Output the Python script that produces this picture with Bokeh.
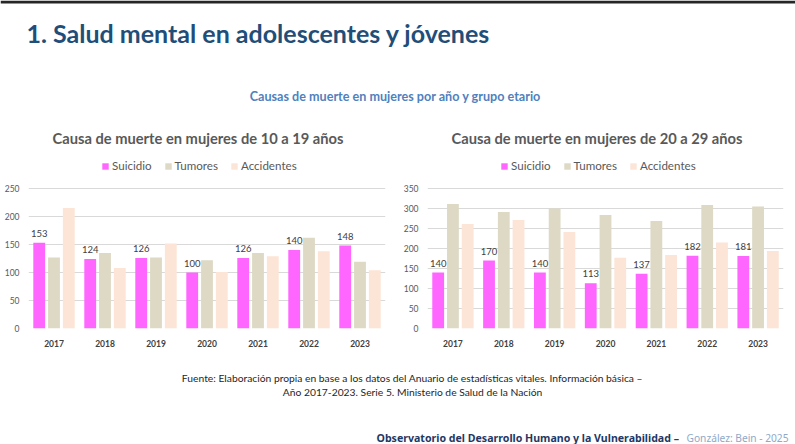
from bokeh.plotting import figure
from bokeh.models import (ColumnDataSource, FactorRange, Range1d, Legend, LegendItem,
                          FixedTicker)
from bokeh.layouts import column, row
from bokeh.embed import file_html
from bokeh.resources import INLINE
from bokeh.core.properties import value
from bokeh.transform import dodge

# ---- data -------------------------------------------------------------
years = ["2017", "2018", "2019", "2020", "2021", "2022", "2023"]

suicidio_10_19 = [153, 124, 126, 100, 126, 140, 148]
tumores_10_19 = [127, 135, 127, 122, 135, 162, 119]
accidentes_10_19 = [215, 108, 152, 101, 129, 138, 104]

suicidio_20_29 = [140, 170, 140, 113, 137, 182, 181]
tumores_20_29 = [311, 291, 300, 284, 269, 309, 305]
accidentes_20_29 = [261, 271, 241, 177, 184, 215, 194]

series = ["Suicidio", "Tumores", "Accidentes"]
series_colors = ["#FF66FF", "#DDD9C4", "#FCE4D6"]

page_title = "1. Salud mental en adolescentes y jóvenes"
subtitle = "Causas de muerte en mujeres por año y grupo etario"
chart_titles = ["Causa de muerte en mujeres de 10 a 19 años",
                "Causa de muerte en mujeres de 20 a 29 años"]
source_lines = ["Fuente: Elaboración propia en base a los datos del Anuario de estadísticas vitales. Información básica –",
                "Año 2017-2023. Serie 5. Ministerio de Salud de la Nación"]
footer_main = "Observatorio del Desarrollo Humano y la Vulnerabilidad – "
footer_credit = "González: Bein - 2025"

W = 795
FONT = value("Lato")

# chart geometry (pixels): plot area holds the legend strip plus the gridded zone
CHART_H = 210
PLOT_H = 178      # frame height (legend strip + gridded area)
GRID_H = 140      # height of the gridded area, 0 .. max tick


def canvas(width, height):
    """Blank figure whose data coordinates are pixels (y grows downwards)."""
    c = figure(width=width, height=height, x_range=Range1d(0, width),
               y_range=Range1d(height, 0), output_backend="svg",
               toolbar_location=None, x_axis_type=None, y_axis_type=None,
               min_border=0, outline_line_color=None)
    c.grid.visible = False
    return c


# ---- header -----------------------------------------------------------
header = canvas(W, 150)
header.quad(left=0, right=W, top=0, bottom=3, fill_color="#262626", line_color=None)
header.text(x=[26], y=[32], text=[page_title], text_font=FONT, text_font_style="bold",
            text_font_size="25px", text_color="#1F4E79", text_baseline="middle")
header.text(x=[395], y=[96], text=[subtitle], text_font=FONT, text_font_style="bold",
            text_font_size="12.6px", text_color="#4F81BD", text_align="center",
            text_baseline="middle")
header.text(x=[197.5, 596.5], y=[137, 137], text=chart_titles, text_font=FONT,
            text_font_style="bold", text_font_size="14.7px", text_color="#595959",
            text_align="center", text_baseline="middle")


# ---- charts -----------------------------------------------------------
def make_chart(sui, tum, acc, ymax, ystep, width, border_left, legend_x):
    src = ColumnDataSource(dict(year=years, Suicidio=sui, Tumores=tum, Accidentes=acc,
                                lbl=[str(v) for v in sui]))
    p = figure(x_range=FactorRange(*years), y_range=Range1d(0, ymax * PLOT_H / GRID_H),
               width=width, height=CHART_H, output_backend="svg", toolbar_location=None,
               min_border_left=border_left, min_border_right=12,
               min_border_top=0, min_border_bottom=CHART_H - PLOT_H,
               outline_line_color=None)

    offsets = [-0.29, 0.0, 0.29]
    items = []
    for name, col, off in zip(series, series_colors, offsets):
        r = p.vbar(x=dodge("year", off, range=p.x_range), top=name, width=0.232,
                   source=src, fill_color=col, line_color=None)
        items.append(LegendItem(label=name, renderers=[r]))

    p.text(x=dodge("year", offsets[0], range=p.x_range), y="Suicidio", text="lbl",
           source=src, text_align="center", text_baseline="bottom", y_offset=-6,
           text_font=FONT, text_font_size="9.5px", text_color="#404040")

    legend = Legend(items=items, orientation="horizontal", location=(legend_x, 156),
                    border_line_color=None, background_fill_alpha=0, padding=0,
                    margin=0, spacing=12, label_standoff=3, glyph_width=8,
                    glyph_height=8, label_height=13, label_text_font="Lato",
                    label_text_font_size="11.6px", label_text_color="#595959")
    p.add_layout(legend)

    for ax in (p.xaxis, p.yaxis):
        ax.axis_line_color = None
        ax.major_tick_line_color = None
        ax.minor_tick_line_color = None
        ax.major_tick_out = 0
        ax.major_tick_in = 0
        ax.minor_tick_out = 0
        ax.minor_tick_in = 0
        ax.major_label_text_font = "Lato"
        ax.major_label_text_font_size = "8.5px"

    p.yaxis.ticker = FixedTicker(ticks=list(range(0, ymax + 1, ystep)))
    p.yaxis.major_label_standoff = 9
    p.yaxis.major_label_text_color = "#595959"

    p.xaxis.major_label_standoff = 11
    p.xaxis.major_label_text_font_style = "bold"
    p.xaxis.major_label_text_color = "#404040"

    p.xgrid.grid_line_color = None
    p.ygrid.grid_line_color = "#D9D9D9"
    p.ygrid.grid_line_width = 1
    return p


left = make_chart(suicidio_10_19, tumores_10_19, accidentes_10_19, 250, 50,
                  width=397, border_left=28, legend_x=73)
right = make_chart(suicidio_20_29, tumores_20_29, accidentes_20_29, 350, 50,
                   width=398, border_left=30, legend_x=73)

# ---- footer -----------------------------------------------------------
footer = canvas(W, 84)
footer.text(x=[412, 412], y=[17, 31], text=source_lines, text_font=FONT,
            text_font_size="10.3px", text_color="#262626", text_align="center",
            text_baseline="middle")
footer.text(x=[376], y=[77], text=[footer_main], text_font=value("Noto Sans"),
            text_font_style="bold", text_font_size="10.6px", text_color="#1F3864",
            text_baseline="alphabetic")
footer.text(x=[686], y=[77], text=[footer_credit], text_font=value("Noto Sans"),
            text_font_size="10.2px", text_color="#8EA9C8", text_baseline="alphabetic")

layout = column(header, row(left, right), footer)

open("out.html", "w").write(file_html(layout, INLINE))
